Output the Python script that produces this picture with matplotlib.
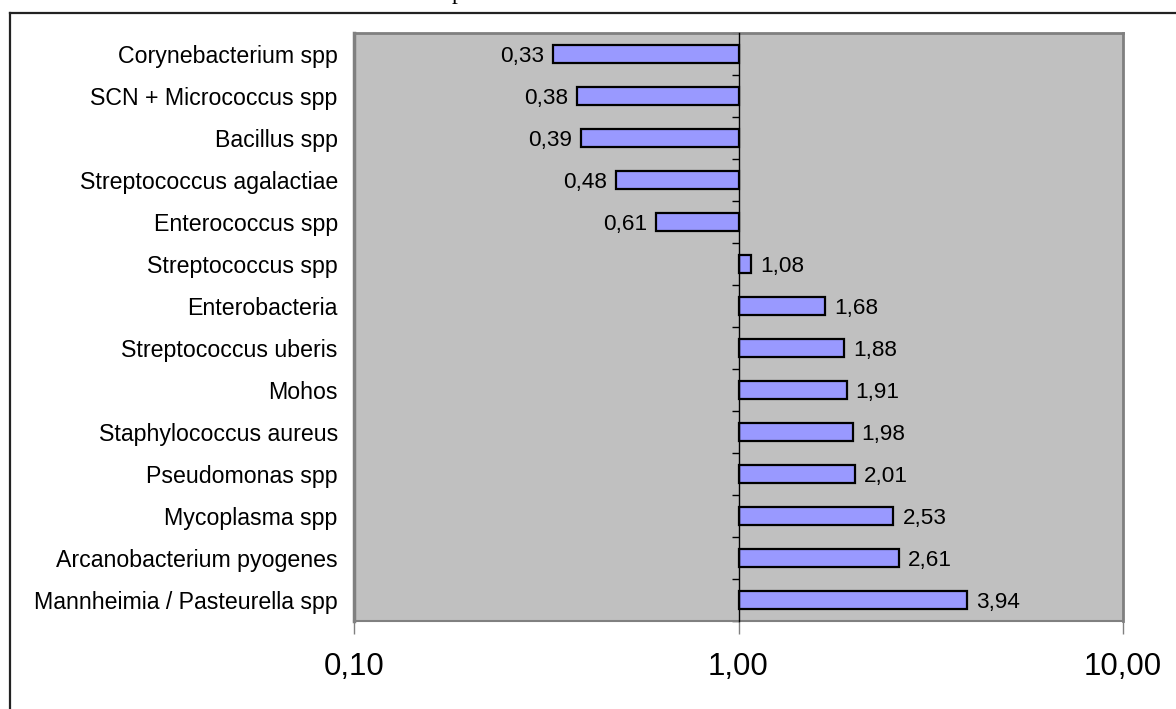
import matplotlib
matplotlib.use('Agg')
import matplotlib.pyplot as plt
import matplotlib.transforms as mtrans
from matplotlib.lines import Line2D

categories = [
    "Corynebacterium spp",
    "SCN + Micrococcus spp",
    "Bacillus spp",
    "Streptococcus agalactiae",
    "Enterococcus spp",
    "Streptococcus spp",
    "Enterobacteria",
    "Streptococcus uberis",
    "Mohos",
    "Staphylococcus aureus",
    "Pseudomonas spp",
    "Mycoplasma spp",
    "Arcanobacterium pyogenes",
    "Mannheimia / Pasteurella spp",
]
values = [0.33, 0.38, 0.39, 0.48, 0.61, 1.08, 1.68, 1.88, 1.91, 1.98, 2.01, 2.53, 2.61, 3.94]
value_labels = ["0,33", "0,38", "0,39", "0,48", "0,61", "1,08", "1,68", "1,88",
                "1,91", "1,98", "2,01", "2,53", "2,61", "3,94"]
xtick_values = [0.1, 1.0, 10.0]
xtick_labels = ["0,10", "1,00", "10,00"]
baseline = 1.0

plt.rcParams['font.family'] = ['Liberation Sans', 'DejaVu Sans']

W, H = 1176, 709
fig = plt.figure(figsize=(W / 100, H / 100), dpi=100)
ax = fig.add_axes([354 / W, 1 - 621 / H, (1123 - 354) / W, (621 - 33) / H])
ax.set_facecolor('#C0C0C0')
ax.set_xscale('log')
ax.set_xlim(xtick_values[0], xtick_values[-1])
n = len(categories)
ypos = list(range(n))
ax.barh(ypos, [v - baseline for v in values], left=baseline, height=0.42,
        color='#9999FF', edgecolor='black', linewidth=1.6, zorder=3)
ax.set_ylim(n - 0.5, -0.5)

# spines
ax.spines['left'].set_position(('data', baseline))
ax.spines['left'].set_color('black')
ax.spines['left'].set_linewidth(1.0)
ax.spines['left'].set_zorder(4)
for s in ['top', 'right']:
    ax.spines[s].set_color('#808080')
    ax.spines[s].set_linewidth(2.0)
ax.spines['bottom'].set_color('#808080')
ax.spines['bottom'].set_linewidth(1.5)
ax.add_line(Line2D([0, 0], [0, 1], transform=ax.transAxes, color='#808080',
                   linewidth=2.5, clip_on=False, zorder=5))

# y ticks at category boundaries
ax.set_yticks([i - 0.5 for i in range(n + 1)])
ax.set_yticklabels([])
ax.tick_params(axis='y', direction='out', length=5, width=1, color='black')

# category labels
trans = mtrans.blended_transform_factory(ax.transAxes, ax.transData)
for i, c in enumerate(categories):
    ax.text(-0.021, i, c, transform=trans, ha='right', va='center_baseline',
            fontsize=16.7)

# x ticks
ax.set_xticks(xtick_values)
ax.set_xticklabels(xtick_labels)
ax.xaxis.set_minor_locator(matplotlib.ticker.NullLocator())
ax.tick_params(axis='x', direction='out', length=9, width=1, color='#808080',
               labelsize=22.5, pad=13.5)

# value labels
for i, (v, lab) in enumerate(zip(values, value_labels)):
    if v < baseline:
        ax.annotate(lab, (v, i), xytext=(-6.5, 0), textcoords='offset points',
                    ha='right', va='center_baseline', fontsize=16.2)
    else:
        ax.annotate(lab, (v, i), xytext=(6.5, 0), textcoords='offset points',
                    ha='left', va='center_baseline', fontsize=16.2)

# outer frame (partial)
fig.add_artist(Line2D([9.5 / W, 1], [1 - 12.5 / H] * 2, transform=fig.transFigure,
                      color='#222222', linewidth=1.6))
fig.add_artist(Line2D([9.5 / W] * 2, [0, 1 - 12.5 / H], transform=fig.transFigure,
                      color='#222222', linewidth=1.6))

# cut-off title fragment at very top (as in the reference)
fig.text(452 / W, 1.0 + 1.0 / H, "p", family=['Liberation Serif', 'DejaVu Serif'],
         fontsize=17, ha='left', va='baseline')

fig.savefig('out.png', dpi=100)
